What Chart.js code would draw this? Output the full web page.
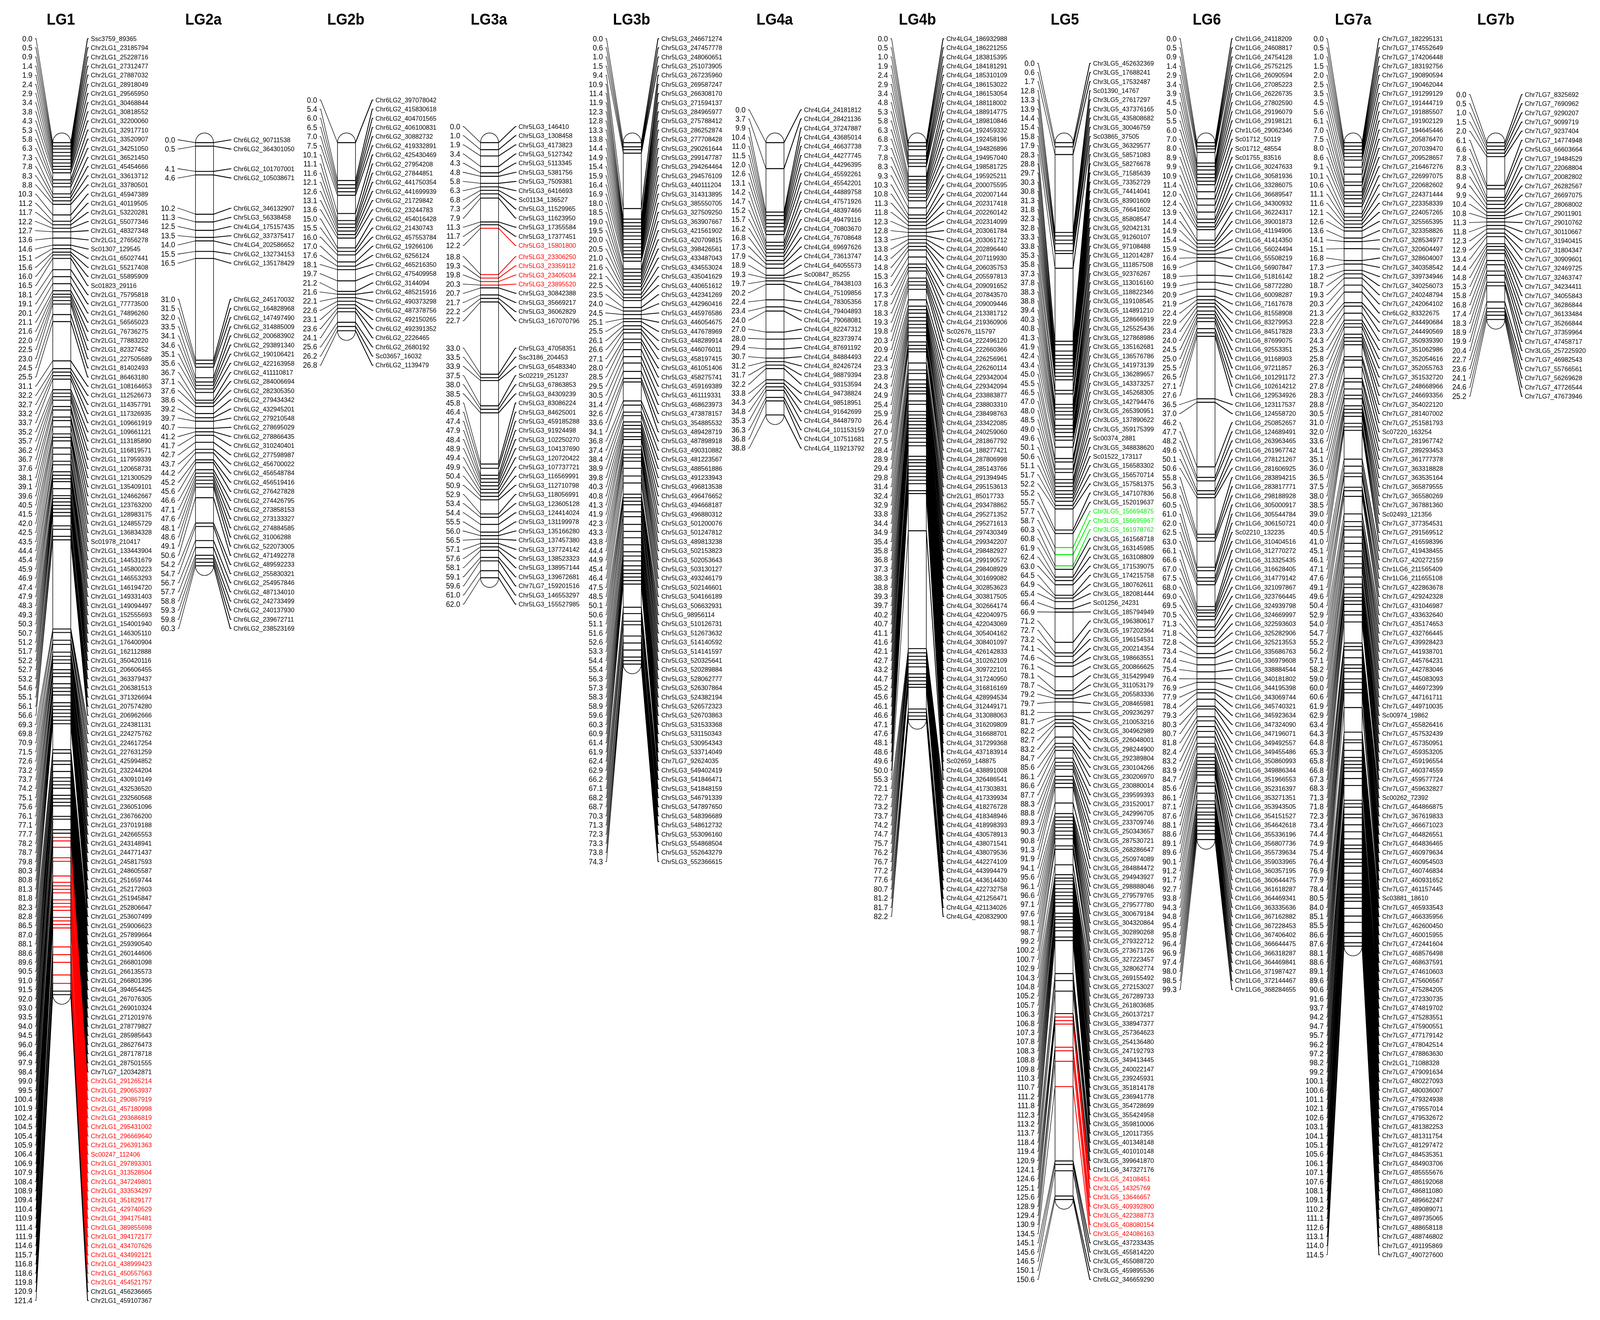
<!DOCTYPE html>
<html><head><meta charset="utf-8">
<style>html,body{margin:0;padding:0;background:#fff;overflow:hidden}canvas{display:block}</style>
<script src="https://cdn.jsdelivr.net/npm/chart.js@4"></script></head>
<body><canvas id="c"></canvas>
<script>
const LG1=[0,'Ssc3759_89365',.5,23185794,.9,25228716,1.4,27312477,1.9,27887032,2.4,28918049,2.9,29565950,3.4,30468844,3.8,30818552,4.3,32200060,5.3,32917710,5.8,33520907,6.3,34251050,7.3,36521450,7.8,45454666,8.3,33613712,8.8,33780501,10.3,45947389,11.2,40119505,11.7,53220281,12.2,55077346,12.7,48327348,13.6,27656278,14.6,'Sc01307_129545',15.1,65027441,15.6,55217408,16,55895909,16.5,'Sc01823_29116',18.1,75795818,19.1,77773500,20.1,74896260,21.1,56565023,21.6,76736275,22,77883220,22.5,82327452,23,227505689,24.5,81402493,25.5,86463180,31.1,108164653,32.2,112526673,32.7,114357791,33.2,117326935,33.7,109661919,35.2,109661121,35.7,113185890,36.2,116819571,36.7,117959339,37.6,120658731,38.1,121300529,39.1,135409101,39.6,124662667,40.5,123763200,41.5,128983175,42,124855729,42.5,136834328,43.5,'Sc01978_210417',44.4,133443904,45.4,144531679,45.9,145800223,46.9,146553293,47.4,146194720,47.9,149331403,48.3,149094497,49.3,152555693,50.3,154001940,50.7,146305110,51.2,176400904,51.7,162112888,52.2,350420116,52.7,206606455,53.2,363379437,54.6,206381513,55.1,371326694,56.1,207574280,56.6,206962666,69.3,224381131,69.8,224275762,70.9,224617254,71.5,227631259,72.6,425994852,73.2,232244204,73.7,430910149,74.2,432536520,75.1,232560568,75.6,236051096,76.1,236766200,77.1,237019188,77.7,242665553,78.2,243148941,78.7,244771437,79.8,245817593,80.3,248605587,80.8,251659744,81.3,252172603,81.8,251945847,82.3,252806647,82.8,253607499,86.5,259006623,87,257899664,88.1,259390540,88.6,260144606,89.6,266801098,90.5,266135573,91,266801396,91.5,'Chr4LG4_394654425',92,267076305,93,269010324,93.5,271201976,94,278779827,94.5,285985643,96,286276473,96.4,287178718,97.9,287501555,98.4,'Chr7LG7_120342871',99,291265214,99.5,290653937,100.4,290867919,101.9,457180998,102.4,293686819,104.5,295431002,105.4,296669640,105.9,296391363,106.4,'Sc00247_112406',106.9,297893301,107.9,313528504,108.4,347249801,108.9,333534297,109.4,351829177,110.4,429740529,110.9,394175481,111.4,389855698,111.9,394172177,114.6,434707626,115.7,434992121,116.8,438999423,118.6,450557563,119.8,454521757,120.9,456236665,121.4,459107367];
const LG2a=[0,90711538,.5,364301050,4.1,101707001,4.6,105038671,10.2,346132907,11.3,'Chr5LG3_56338458',12.5,'Chr4LG4_175157435',13.5,337375417,14,'Chr4LG4_202586652',15.5,132734153,16.5,135178429,31,245170032,31.5,164828968,32,147497490,33.5,314885009,34.1,200683902,34.6,293891340,35.1,190106421,35.6,422163958,36.7,411110817,37.1,284006694,37.6,282305350,38.6,279434342,39.2,432945201,39.7,279210548,40.7,278695029,41.2,278866435,41.7,310240401,42.7,277598987,43.7,456700022,44.2,456548784,45.2,456519416,45.6,276427828,46.6,274426795,47.1,273858153,47.6,273133327,48.1,274884585,48.6,31006288,49.1,522073005,50.6,471492278,54.2,489592233,54.7,255830321,56.7,254957846,57.7,487134010,58.8,242733499,59.3,240137930,59.8,239672711,60.3,238523169];
const LG2b=[0,397078042,5.4,415830618,6,404701565,6.5,406100831,7,30882732,7.5,419332891,10.1,425430469,11.1,27954208,11.6,27844851,12.1,441750354,12.6,441699939,13.1,21729842,13.6,23244783,15,454016428,15.5,21430743,16,457553784,17,19266106,17.6,6256124,18.1,465216350,19.7,475409958,21.2,3144094,21.6,485215916,22.1,490373298,22.6,487378756,23.1,492150265,23.6,492391352,24.1,2226465,25.6,2680192,26.2,'Sc03657_16032',26.8,1139479];
const LG3a=[0,146410,1,1308458,1.9,4173823,3.4,5127342,4.3,5113345,4.8,5381756,5.8,7509381,6.3,6416693,6.8,'Sc01134_136527',7.3,11529965,7.9,11623950,11.3,17355584,11.7,17377451,12.2,15801800,18.8,23306250,19.3,23359112,19.8,23405034,20.3,23895520,20.7,30842388,21.7,35669217,22.2,36062829,22.7,167070796,33,47058351,33.5,'Ssc3186_204453',33.9,65483340,37.5,'Sc02219_251237',38,67863853,38.5,84309239,45.8,83086224,46.4,84625001,47.4,459185288,47.9,91924498,48.4,102250270,48.9,104137690,49.4,120720422,49.9,107737721,50.4,116569991,50.9,112710798,52.9,118056991,53.4,123605128,54.4,124414024,55.5,131199978,56,135166280,56.5,137457380,57.1,137724142,57.6,138523323,58.1,138957144,59.1,139672681,59.6,'Chr7LG7_159201516',61,146553297,62,155527985];
const LG3b=[0,246671274,.6,247457778,1,248060651,1.5,251073905,9.4,267235960,10.9,269587247,11.4,266308170,11.9,271594137,12.3,284965977,12.8,275788412,13.3,286252874,13.8,277708428,14.4,290261644,14.9,299147787,15.4,294264464,15.9,294576109,16.4,440111204,16.9,314313895,18,385550705,18.5,327509250,19,363907667,19.5,421561902,20,420709815,20.5,398426561,21,433487043,21.6,434553024,22.1,435041629,22.5,440651612,23.5,442341269,24,442960416,24.5,445976586,25.1,446054675,25.5,447678969,26.1,448289914,26.6,446076011,27.1,458197415,28,461051406,28.5,458275741,29.5,459169389,30.5,461119331,31.4,468623973,32.6,473878157,33.6,354885532,34.1,489428719,36.8,487898918,37.4,490310882,38.4,481223567,38.9,488561886,39.8,491233943,40.3,496813538,40.8,496476652,41.3,494668187,41.9,496880312,42.3,501200076,43.3,501247812,43.8,489813238,44.4,502153823,44.9,502053643,45.4,503130127,46.4,493246179,47.5,502146601,48.5,504166189,50.1,506632931,50.6,'Chr5LG_98956114',51.1,510126731,51.6,512673632,52.6,514140592,53.3,514141597,54.4,520325641,55.4,520289884,56.3,528062777,57.3,526307864,58.3,524382194,58.9,526572323,59.6,526703863,60.3,531533368,60.9,531150343,61.4,530954343,61.9,533714049,62.4,'Chr7LG7_92624035',62.9,549402419,66.2,541846471,67.1,541848159,68.2,546791339,68.7,547897650,70.3,548396689,71.3,548612732,72.3,553096160,73.3,554868504,73.8,552643279,74.3,552366615];
const LG4a=[0,24181812,3.7,28421136,9.9,37247887,10.4,43685014,11,46637738,11.5,44277745,12,44296395,12.6,45592261,13.1,45542201,14.2,44889758,14.7,47571926,15.2,48397466,15.7,49479116,16.2,70803670,16.8,76708648,17.3,69697626,17.9,73613747,18.9,64055573,19.3,'Sc00847_85255',19.7,78438103,20.2,75109856,22.4,78305356,23.4,79404893,24,79068081,27,82247312,28,82373974,29.4,87691192,30.7,84884493,31.2,82426724,31.7,98879394,32.2,93153594,33.8,94738824,34.3,98518951,34.8,91642699,35.3,84487970,36.3,101153159,36.8,107511681,38.8,119213792];
const LG4b=[0,186932988,.5,186221255,1,183815395,1.9,184181291,2.4,185310109,2.9,186153022,3.4,186153054,4.8,188118002,5.3,188914775,5.8,189810846,6.3,192459332,6.8,192458196,7.3,194826896,7.8,194957040,8.3,198581725,9.3,195925211,10.3,200075595,10.8,202007144,11.3,202317418,11.8,202260142,12.3,202314099,12.8,203061784,13.3,203061712,13.8,202896440,14.3,207119930,14.8,206035753,15.3,205597813,16.3,209091652,17.3,207843570,17.8,209009446,18.3,213381712,19.3,219360906,19.8,'Sc02676_115797',20.3,222496120,20.9,222660366,22.4,226256961,23.3,226260114,23.8,229342004,24.3,229342094,24.9,233883877,25.4,238803310,25.9,238498763,26.4,233422085,27,240259060,27.5,281867792,28.4,188277421,28.9,287806998,29.4,285143766,29.8,291394945,31.4,295153613,32.4,'Chr2LG1_85017733',32.9,293478862,33.8,295271352,34.4,295271613,34.9,297430349,35.4,299342207,35.8,298482927,36.8,299190572,37.3,298408929,38.3,301699082,38.8,302853623,39.3,303817505,39.7,302664174,40.2,422040975,40.7,422043069,41.1,305404162,41.6,308401097,42.1,426142833,42.7,310262109,43.2,309722101,44.7,317240950,45.2,316816169,45.6,428994534,46.1,312449171,46.6,313088063,47.1,316209809,47.6,316688701,48.1,317299368,48.6,437183914,49.6,'Sc02659_148875',50,438891008,55.3,326486541,72.1,417303831,72.7,417339934,73.2,418276728,73.7,418348946,74.2,418998393,74.7,430578913,75.7,438071541,76.2,438079536,76.7,442274109,77.2,443994479,77.6,443614430,80.7,422732758,81.2,421256471,81.7,421134026,82.2,420832900];
const LG5=[0,452632369,.6,17688241,1.7,17532487,12.8,'Sc01390_14767',13.3,27617297,13.9,437376165,14.4,435808682,15.4,30046759,15.8,'Sc03865_37505',17.9,36329577,28.3,58571083,28.8,58276678,29.7,71585639,30.3,73352729,30.8,74414041,31.3,83901609,31.8,76641602,32.3,85808547,32.8,92042131,33.3,91260107,33.8,97108488,35.3,112014287,35.8,111857508,37.3,92376267,37.8,113016160,38.3,118822346,38.8,119108545,39.4,114891210,40.3,128666919,40.8,125525436,41.3,127868986,41.9,135162681,42.4,136576786,43.4,141973139,45,136289657,45.5,143373257,46.5,145268305,47,142794476,48,265390951,48.5,137890622,49,359175399,49.6,'Sc00374_2881',50.1,348838620,50.6,'Sc01522_173117',51.1,156583302,51.7,156570714,52.2,157581375,55.2,147107836,55.7,152019637,57.7,156694875,58.7,156695967,60.3,161978762,60.8,161568718,61.9,163145985,62.4,163108809,63,171539075,64.5,174215758,64.9,180762611,65.4,182081444,66.4,'Sc01256_24231',66.9,185794949,71.2,196380617,72.7,197202364,73.2,196154531,74.1,200214354,74.6,198663551,76.1,200866625,78.1,315429949,78.7,311053179,79.2,205583336,79.7,208465981,81.2,209236297,81.7,210053216,82.2,304962989,82.7,226048001,83.2,298244900,84.7,292389804,85.6,230104266,86.1,230206970,86.6,230880014,87.7,239599393,88.3,231520017,88.8,242996705,89.3,233709746,90.3,250343657,90.8,287530721,91.3,268286647,91.9,250974089,94.1,284884472,95.6,294943927,96.1,298888046,96.6,279579765,97.1,279577780,97.6,300679184,98.1,304320864,98.7,302890268,99.2,279322712,100.2,273671726,100.7,327223457,102.9,328062774,104.3,269155492,104.8,272153027,105.2,267289733,105.7,261803685,106.3,260137217,106.8,338947377,107.3,257364623,107.8,254136480,108.3,247192793,108.8,349413445,109.8,240022147,110.3,239245931,110.7,351814178,111.2,236941778,111.8,354728699,112.3,355424958,113.2,359810006,113.7,120117355,118.4,401348148,119.4,401010148,120.9,399641870,124.1,'Chr1LG6_347327176',124.6,24108451,125.1,14325769,125.6,13646657,128.9,409392800,129.4,422388773,130.9,408080154,134.5,424086163,145.1,437233435,145.6,455814220,146.5,455088720,150.1,459895536,150.6,'Chr6LG2_346659290'];
const LG6=[0,24118209,.5,24608817,.9,24754128,1.4,25752125,2.9,26090594,3.4,27085223,3.9,26226735,4.5,27802590,5,29196079,5.5,29198121,6,29062346,7,'Sc01712_50119',8,'Sc01712_48554',8.9,'Sc01755_83516',9.9,30247633,10.9,30581936,11.4,33286075,12,36689547,12.4,34300932,13.9,36224317,14.4,39001873,14.9,41194906,15.4,41414350,15.9,56024494,16.4,55508219,16.9,56907847,18.9,51816142,19.9,58772280,20.9,60098287,21.9,71617678,22.4,81558908,22.9,83279953,23.4,84517828,24,87699075,24.5,92553351,25,91168903,25.5,97211857,26.5,101291172,27.1,102614212,27.6,129534926,36.5,123117537,37,124558720,46.2,250852657,47.7,124689491,48.2,263963465,49.6,261967742,50.1,278121267,50.6,281606925,55.8,283894215,56.3,283817771,56.8,298188928,60.5,305000917,61,305544784,62,306150721,62.5,'Sc02210_132235',63,310404516,66.1,312770272,66.6,313325435,67,316628405,67.5,314779142,68,321097867,69,323766445,69.5,324939798,70.5,324669997,71.3,322593603,71.8,325282906,72.8,325213553,73.4,335686763,74.4,336979608,75.4,338884544,76.4,340181802,76.9,344195398,77.9,343069744,78.4,345740321,79.3,345923634,80.3,347324090,80.7,347196071,81.8,349492557,82.4,349455486,83.2,350860993,83.9,349886344,84.7,351966553,85.6,352316397,86.1,353271351,87.1,353943505,87.6,354151527,88.1,354642618,88.6,355336196,89.1,356807736,89.6,355739634,90.1,359033965,91.2,360357195,91.7,360644475,92.7,361618287,93.8,364469341,94.3,363335636,94.8,367162882,95.4,367228453,95.8,367406402,96.4,366644475,96.9,366318287,97.4,364469841,98,371987427,98.5,372144467,99.3,368284655];
const LG7a=[0,182295131,.5,174552649,1,174206448,1.5,183192756,2,190890594,2.5,190462044,3.5,191299129,4.5,191444719,5.6,191885507,6.1,191902129,7,194645446,7.5,205876470,8,207039470,8.6,209528657,9.1,216467276,10.1,226997075,10.6,220682602,11.1,224371444,11.6,223358339,12.1,224057265,12.6,325565395,13.6,323358826,14.1,328534977,15.1,320604497,16.8,328604007,17.3,340358542,18.2,339734946,18.7,340256073,19.3,240248794,20.3,242064102,21.3,'Chr6LG2_83322675',22.8,244490684,23.3,244490569,24.3,350939390,25.3,351062986,25.8,352054616,26.3,352055763,27.3,351532720,27.8,248668966,28.3,246693356,28.8,354022120,30.5,281407002,31,251581793,32,'Sc07220_163254',33.6,281967742,34.1,289293453,35.1,361777378,36,363318828,36.5,363535164,37.5,365879555,38,365580269,38.5,367881360,39,'Sc02493_121356',40,377354531,40.5,291569512,41,416598396,45.1,419438455,46.1,420272159,47.1,'Chr1LG6_211565409',47.6,'Chr1LG6_211655108',49.1,422863678,49.6,429242328,50.4,431046987,52.9,433632640,54,435174653,54.7,432766445,55.2,439928423,56.2,441938701,57.1,445764231,58.2,442783046,59,445083093,60,446972399,60.6,447161711,61.9,449710035,62.9,'Sc00974_19862',63.4,455826416,64.3,457532439,64.8,457350951,65.3,459353205,65.8,459196554,66.8,460374559,67.3,459577724,68.3,459632827,71.3,'Sc00262_72392',71.8,464866875,72.3,367619833,73.4,466671023,74.4,464826551,74.9,464836465,75.4,460979634,76.4,460954503,76.9,460746834,77.9,460931652,78.4,461157445,80.5,'Sc03881_18610',84,465933543,85.1,466335956,85.5,462600450,86.6,460015955,87.6,472441604,88.1,468576498,88.6,468637591,89.1,474610603,89.6,475606567,90.6,475284205,91.6,472330735,93.7,474819702,94.2,475283551,94.7,475900551,95.7,477179142,96.2,478042514,97.2,478863630,98.2,'Chr2LG1_71088328',99.2,479091634,100.1,480227093,100.6,480036007,101.1,479324938,102.1,479557014,102.6,479532672,103.1,481382253,104.1,481311754,105.1,481297472,105.6,484535351,106.1,484903706,107.1,485555676,107.6,486192068,108.1,486811080,109.1,489662247,110.2,489089071,111.1,489735065,112.6,488658118,113.1,488746802,114,491195869,114.5,490727600];
const LG7b=[0,8325692,.5,7690962,1,9290207,1.5,9099719,2,9237404,6.1,14774948,6.6,'Chr5LG3_66603664',7.8,19484529,8.3,22068804,8.8,20082802,9.4,26282567,9.9,26697075,10.4,28068002,10.8,29011901,11.3,29010762,11.8,30110667,12.3,31940415,12.9,31804347,13.4,30909601,14.4,32469725,14.8,32463747,15.3,34234411,15.8,34055843,16.8,36286844,17.4,36133484,18.3,35266844,18.9,37359964,19.9,47458717,20.4,'Chr3LG5_257225920',22.7,46982543,23.6,55766561,24.1,56269628,24.6,47726544,25.2,47673946];

const PX_PER_CM=17.96,ZERO_Y=365,ROW_PX=23.4,W=4395,H=3378;
const GREEN='#00ee00',RED='#ff0000',BLACK='#000000';
// runs: label columns, as [first marker position, pixel row of its label]
const groups=[
 {t:'LG1',p:LG1,pre:'Chr2LG1_',x:145,tx:167,runs:[[0,99]],red:[[99,119.8]]},
 {t:'LG2a',p:LG2a,pre:'Chr6LG2_',x:537,tx:559,runs:[[0,358],[4.1,432],[10.2,533],[31,766]]},
 {t:'LG2b',p:LG2b,pre:'Chr6LG2_',x:927,tx:950,runs:[[0,256]]},
 {t:'LG3a',p:LG3a,pre:'Chr5LG3_',x:1320,tx:1343,runs:[[0,324],[18.8,657],[33,891]],red:[[12.2,12.2],[18.8,20.3]]},
 {t:'LG3b',p:LG3b,pre:'Chr5LG3_',x:1712,tx:1735,runs:[[0,99]]},
 {t:'LG4a',p:LG4a,pre:'Chr4LG4_',x:2104,tx:2128,runs:[[0,281]]},
 {t:'LG4b',p:LG4b,pre:'Chr4LG4_',x:2495,tx:2520,runs:[[0,99]]},
 {t:'LG5',p:LG5,pre:'Chr3LG5_',x:2898,tx:2925,runs:[[0,162]],red:[[124.6,134.5]],green:[[57.7,60.3]]},
 {t:'LG6',p:LG6,pre:'Chr1LG6_',x:3288,tx:3315,runs:[[0,99]]},
 {t:'LG7a',p:LG7a,pre:'Chr7LG7_',x:3692,tx:3717,runs:[[0,99]]},
 {t:'LG7b',p:LG7b,pre:'Chr7LG7_',x:4084,tx:4109,runs:[[0,242]]}
];
const CW=49.5,GAP=46,TICK=3;
const inR=(v,r)=>(r||[]).some(a=>v>=a[0]-1e-6&&v<=a[1]+1e-6);
function labelRows(pos,runs){
 let top=runs[0][1],k=0,j=1;
 return pos.map(v=>{
  if(j<runs.length&&v>=runs[j][0]-1e-6){top=runs[j][1];k=0;j++;}
  return (top+(k++)*ROW_PX-ZERO_Y)/PX_PER_CM;
 });
}
const datasets=[];
const line=(data,color,w)=>datasets.push({type:'scatter',showLine:true,data,borderColor:color,borderWidth:w,pointRadius:0,pointHoverRadius:0,fill:false,spanGaps:false,borderJoinStyle:'bevel',tension:0});
groups.forEach(g=>{
 g.pos=[];g.names=[];
 for(let i=0;i<g.p.length;i+=2){g.pos.push(g.p[i]);const n=g.p[i+1];g.names.push(typeof n==='number'?g.pre+n:n);}
 g.rows=labelRows(g.pos,g.runs);
 g.col=g.pos.map(v=>inR(v,g.red)?RED:inR(v,g.green)?GREEN:BLACK);
 const L=g.x,R=g.x+CW,left=[],band={},right={};
 g.pos.forEach((v,i)=>{
  const r=g.rows[i],c=g.col[i];
  left.push({x:L-GAP-TICK,y:r},{x:L-GAP,y:r},{x:L,y:v},{x:L,y:NaN});
  (band[c]=band[c]||[]).push({x:L,y:v},{x:R,y:v},{x:R,y:NaN});
  (right[c]=right[c]||[]).push({x:R,y:v},{x:R+GAP,y:r},{x:R+GAP+TICK,y:r},{x:R,y:NaN});
 });
 line(left,BLACK,1.3);
 [BLACK,RED,GREEN].forEach(c=>{if(band[c]){line(band[c],c,2.4);line(right[c],c,2.1);}});
});
// the browser window may be narrower than the reference: the x scale and the text widths follow it
const cv=document.getElementById('c');
const pxW=Math.min(window.innerWidth||W,W),pxH=Math.min(window.innerHeight||H,H),kx=pxW/W;
cv.width=pxW;cv.height=pxH;cv.style.width=pxW+'px';cv.style.height=pxH+'px';
const put=(ctx,txt,px,py)=>{ctx.save();ctx.translate(px,py);ctx.scale(kx,1);ctx.fillText(txt,0,0);ctx.restore();};
const textPlugin={id:'mapText',afterDatasetsDraw(ch){
 const ctx=ch.ctx,y=ch.scales.y,x=ch.scales.x;
 ctx.save();
 groups.forEach(g=>{
  const L=x.getPixelForValue(g.x),R=x.getPixelForValue(g.x+CW),y0=y.getPixelForValue(0),y1=y.getPixelForValue(g.pos[g.pos.length-1]),rx=(R-L)/2,ry=CW/2;
  ctx.strokeStyle='#000';ctx.lineWidth=1.4;
  ctx.beginPath();ctx.moveTo(L,y0);ctx.lineTo(L,y1);ctx.ellipse((L+R)/2,y1,rx,ry,0,Math.PI,0,true);ctx.lineTo(R,y0);ctx.ellipse((L+R)/2,y0,rx,ry,0,0,Math.PI,true);ctx.stroke();
  ctx.fillStyle='#000';ctx.font='bold 40px "Liberation Sans"';ctx.textAlign='center';ctx.textBaseline='alphabetic';
  put(ctx,g.t,x.getPixelForValue(g.tx),63);
  ctx.textBaseline='middle';
  const lx=x.getPixelForValue(g.x-56),rtx=x.getPixelForValue(g.x+CW+55);
  g.pos.forEach((v,i)=>{
   const py=y.getPixelForValue(g.rows[i])+1;
   ctx.fillStyle='#000';ctx.font='20px "Liberation Sans"';ctx.textAlign='right';
   put(ctx,v.toFixed(1),lx,py);
   ctx.fillStyle=g.col[i];ctx.font='17.4px "Liberation Sans"';ctx.textAlign='left';
   put(ctx,g.names[i],rtx,py);
  });
 });
 ctx.restore();
}};
new Chart(cv,{
 data:{datasets},
 plugins:[textPlugin],
 options:{responsive:false,animation:false,devicePixelRatio:1,layout:{padding:0},events:[],
  plugins:{legend:{display:false},tooltip:{enabled:false},title:{display:false}},
  scales:{
   x:{type:'linear',min:0,max:W,display:false},
   y:{type:'linear',min:-ZERO_Y/PX_PER_CM,max:(H-ZERO_Y)/PX_PER_CM,reverse:true,display:false}
  }}
});
</script></body></html>
